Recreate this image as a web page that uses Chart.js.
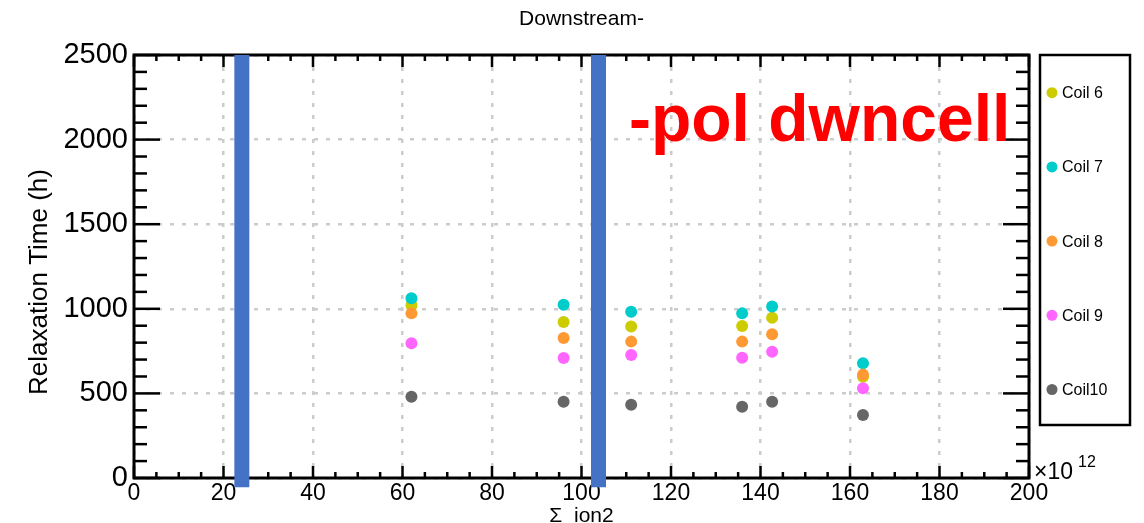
<!DOCTYPE html>
<html>
<head>
<meta charset="utf-8">
<script src="https://cdn.jsdelivr.net/npm/chart.js@4.4.0/dist/chart.umd.min.js"></script>
<style>
  html, body { margin: 0; padding: 0; background: #fff; }
  canvas { display: block; }
</style>
</head>
<body>
<canvas id="relaxChart" width="1144" height="523"></canvas>
<script>
// x positions (units of 10^12)
const fluence = [62.0, 96.0, 111.1, 135.9, 142.6, 162.9];
const coil6 = [1021, 922, 896, 898, 947, 599];
const coil7 = [1062, 1024, 983, 973, 1013, 678];
const coil8 = [973, 827, 806, 806, 849, 611];
const coil9 = [796, 709, 727, 711, 746, 530];
const coil10 = [480, 451, 433, 421, 451, 372];
const coilNames = ['Coil 6', 'Coil 7', 'Coil 8', 'Coil 9', 'Coil10'];
const coilColors = ['#cccc00', '#00cccc', '#ff9933', '#ff66ff', '#666666'];

// vertical blue markers
const markerX = [24.1, 103.8];
const markerY = [-55, 2500];

const FONT = '"Liberation Sans", Helvetica, Arial, sans-serif';

const coilSets = [coil6, coil7, coil8, coil9, coil10].map((vals, i) => ({
    label: coilNames[i],
    data: vals.map((v, j) => ({ x: fluence[j], y: v })),
    backgroundColor: coilColors[i],
    borderWidth: 0,
    pointRadius: 6,
    showLine: false,
    order: 10 - i
}));

const markerSets = markerX.map(x => ({
    label: 'marker',
    type: 'line',
    data: markerY.map(y => ({ x: x, y: y })),
    borderColor: '#4472c4',
    borderWidth: 15,
    pointRadius: 0,
    clip: false,
    order: 0
}));

function line(ctx, x1, y1, x2, y2) {
    ctx.beginPath();
    ctx.moveTo(x1, y1);
    ctx.lineTo(x2, y2);
    ctx.stroke();
}

const rootFrame = {
    id: 'rootFrame',
    beforeDatasetsDraw(chart) {
        const ctx = chart.ctx;
        const xs = chart.scales.x, ys = chart.scales.y;
        const { left, right, top, bottom } = chart.chartArea;
        ctx.save();
        ctx.strokeStyle = '#000';
        ctx.lineWidth = 2.5;
        for (let v = 0; v <= 200; v += 5) {
            const px = xs.getPixelForValue(v);
            const len = v % 20 === 0 ? 12 : 6;
            line(ctx, px, bottom, px, bottom - len);
            line(ctx, px, top, px, top + len);
        }
        for (let v = 0; v <= 2500; v += 100) {
            const py = ys.getPixelForValue(v);
            const len = v % 500 === 0 ? 26 : 13;
            line(ctx, left, py, left + len, py);
            line(ctx, right, py, right - len, py);
        }
        ctx.lineWidth = 3;
        ctx.strokeRect(left, top, right - left, bottom - top);
        ctx.restore();
    },
    afterDraw(chart) {
        const ctx = chart.ctx;
        const { left, right, top, bottom } = chart.chartArea;
        ctx.save();
        ctx.fillStyle = '#000';

        // title
        ctx.font = '21px ' + FONT;
        ctx.textAlign = 'center';
        ctx.textBaseline = 'middle';
        ctx.fillText('Downstream-', (left + right) / 2, 19);

        // axis titles
        ctx.font = '21px ' + FONT;
        ctx.textBaseline = 'alphabetic';
        ctx.fillText('Σ  ion2', (left + right) / 2, 522);

        ctx.save();
        ctx.translate(47, 282);
        ctx.rotate(-Math.PI / 2);
        ctx.font = '26px ' + FONT;
        ctx.fillText('Relaxation Time (h)', 0, 0);
        ctx.restore();

        // exponent
        ctx.textAlign = 'left';
        ctx.font = '23px ' + FONT;
        ctx.fillText('×10', right + 5, 479);
        ctx.font = '16px ' + FONT;
        ctx.fillText('12', right + 49, 467);

        // annotation
        ctx.fillStyle = '#ff0000';
        ctx.font = 'bold 66px ' + FONT;
        ctx.fillText('-pol dwncell', 629, 141);

        // legend box
        ctx.strokeStyle = '#000';
        ctx.lineWidth = 2.5;
        ctx.strokeRect(1040, 55, 90, 370);
        ctx.font = '16px ' + FONT;
        ctx.textBaseline = 'middle';
        coilNames.forEach((name, i) => {
            const cy = 92.7 + i * 74.2;
            ctx.fillStyle = coilColors[i];
            ctx.beginPath();
            ctx.arc(1052, cy, 5.5, 0, Math.PI * 2);
            ctx.fill();
            ctx.fillStyle = '#000';
            ctx.fillText(name, 1062, cy + 1);
        });
        ctx.restore();
    }
};

const ctx = document.getElementById('relaxChart').getContext('2d');

new Chart(ctx, {
    type: 'scatter',
    data: { datasets: coilSets.concat(markerSets) },
    options: {
        responsive: false,
        animation: false,
        layout: { padding: { top: 55, right: 115, bottom: 0, left: 0 } },
        plugins: {
            legend: { display: false },
            title: { display: false },
            tooltip: { enabled: false }
        },
        scales: {
            x: {
                type: 'linear',
                min: 0,
                max: 200,
                afterFit: scale => { scale.height = 45; },
                ticks: {
                    stepSize: 20,
                    autoSkip: false,
                    maxRotation: 0,
                    padding: 2,
                    color: '#000',
                    font: { family: FONT, size: 23 },
                    callback: v => String(v)
                },
                grid: { color: '#cccccc', lineWidth: 2.5, drawTicks: false },
                border: { display: false, dash: [4, 8] }
            },
            y: {
                min: 0,
                max: 2500,
                afterFit: scale => { scale.width = 134; },
                ticks: {
                    stepSize: 500,
                    padding: 6,
                    color: '#000',
                    font: { family: FONT, size: 29 },
                    callback: v => String(v)
                },
                grid: { color: '#cccccc', lineWidth: 2.5, drawTicks: false },
                border: { display: false, dash: [4, 8] }
            }
        }
    },
    plugins: [rootFrame]
});
</script>
</body>
</html>
